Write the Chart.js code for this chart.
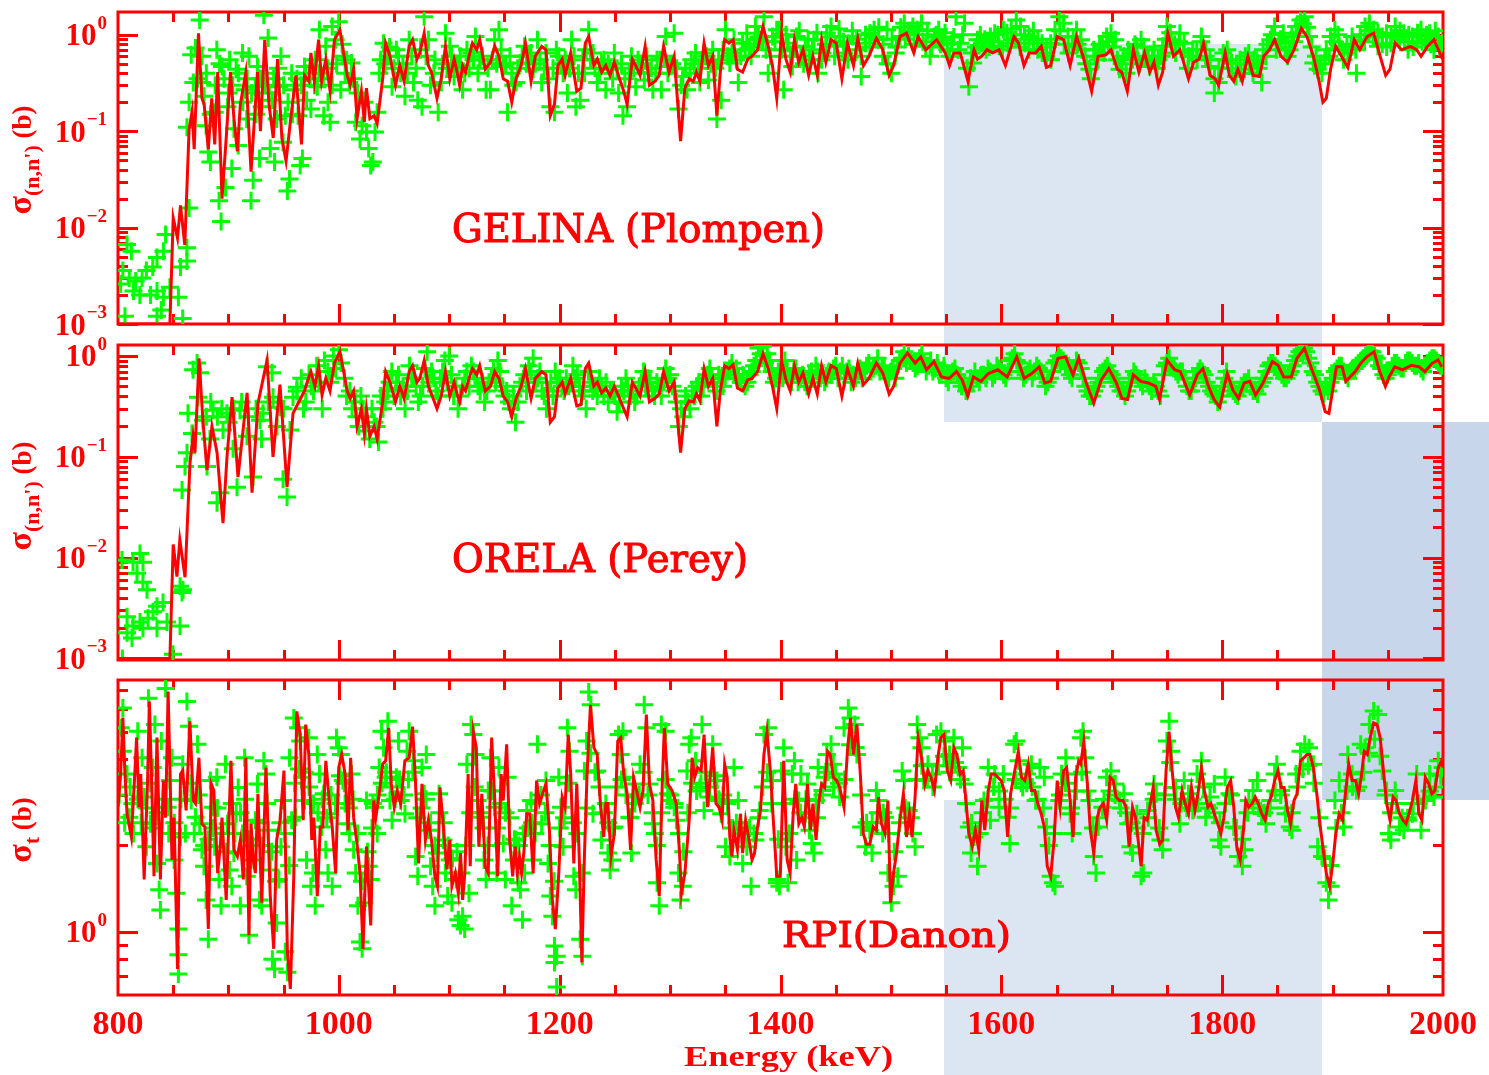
<!DOCTYPE html>
<html>
<head>
<meta charset="utf-8">
<script src="https://cdn.jsdelivr.net/npm/chart.js@4.4.1/dist/chart.umd.min.js"></script>
<style>
  html, body { margin: 0; padding: 0; background: #ffffff; }
  #wrap { position: relative; width: 1489px; height: 1075px; overflow: hidden; background: #ffffff; }
  .band { position: absolute; }
  canvas { position: absolute; left: 0; top: 0; }
</style>
</head>
<body>
<div id="wrap">
  <div class="band" style="left:944px;top:44px;width:378px;height:378px;background:#dce6f2"></div>
  <div class="band" style="left:944px;top:800px;width:378px;height:275px;background:#dce6f2"></div>
  <div class="band" style="left:1322px;top:422px;width:167px;height:378px;background:#c7d6ea"></div>
  <canvas id="gelina" width="1489" height="1075"></canvas>
  <canvas id="orela" width="1489" height="1075"></canvas>
  <canvas id="rpi" width="1489" height="1075"></canvas>
</div>
<script>
// ---------- axis ticks ----------
const energyLabels = [800, 1000, 1200, 1400, 1600, 1800, 2000];
const energyMajor = [1000, 1200, 1400, 1600, 1800];
const energyMinor = [850, 900, 950, 1050, 1100, 1150, 1250, 1300, 1350, 1450, 1500, 1550, 1650, 1700, 1750, 1850, 1900, 1950];
const decadeMajor = [0.001, 0.01, 0.1, 1];
const decadeMinor = [0.002, 0.003, 0.004, 0.005, 0.006, 0.007, 0.008, 0.009,
                     0.02, 0.03, 0.04, 0.05, 0.06, 0.07, 0.08, 0.09,
                     0.2, 0.3, 0.4, 0.5, 0.6, 0.7, 0.8, 0.9];
const decadeLabels = [[1, '0'], [0.1, '\u22121'], [0.01, '\u22122'], [0.001, '\u22123']];
const totalMajor = [1];
const totalMinor = [0.7, 0.8, 0.9, 2, 3, 4, 5, 6, 7];
const totalLabels = [[1, '0']];

// ---------- GELINA inelastic: evaluation (line) and measurement (crosses), [E keV, sigma b] ----------
const gelinaEval = [[800,0.001],[846,0.001],[847,0.001],[850,0.0126],[853.9,0.0078],[856.6,0.017],[860.5,0.0066],[864.4,0.105],[867.1,0.16],[869,0.065],[872.9,1.04],[876,0.22],[878,0.19],[881.8,0.065],[884.9,0.22],[887.6,0.073],[890.3,0.41],[894.2,0.02],[898,0.085],[901.9,0.41],[905,0.135],[908.1,0.062],[910.8,0.19],[915.8,0.41],[920.5,0.038],[926.3,0.41],[929,0.1],[932.9,0.89],[936.8,0.19],[940.6,0.085],[944.5,0.56],[948.4,0.085],[952.2,0.049],[956.1,0.125],[961.1,0.38],[966.2,0.073],[968.9,0.38],[972.8,0.33],[974.7,0.65],[977.8,0.33],[981.7,0.89],[984.4,0.33],[988.2,0.56],[992.1,0.26],[996,0.89],[1001,1.12],[1007.6,0.38],[1010.3,0.3],[1013.4,0.44],[1016.5,0.135],[1020.4,0.26],[1023.1,0.125],[1025,0.28],[1028.1,0.135],[1032,0.145],[1034.7,0.12],[1039.7,0.35],[1042.4,0.82],[1046.3,0.6],[1051.3,0.3],[1055.2,0.48],[1059.1,0.33],[1063.7,0.76],[1066.8,0.89],[1070.7,0.56],[1073.4,0.65],[1077.3,1.04],[1081.1,0.48],[1083.9,0.41],[1088.9,0.22],[1092.7,0.35],[1096.6,0.76],[1100.5,0.35],[1104.4,0.56],[1107.1,0.41],[1109.4,0.3],[1112.1,0.48],[1114.8,0.41],[1117.9,0.6],[1121,0.82],[1124.9,0.7],[1127.6,0.89],[1132.6,0.44],[1137.3,0.52],[1141.2,0.76],[1145,0.6],[1148.9,0.35],[1152.8,0.33],[1156.6,0.2],[1160.5,0.35],[1165.1,0.48],[1169,0.82],[1174.1,0.33],[1177.9,0.6],[1183.7,0.76],[1187.6,0.7],[1191.5,0.145],[1195.3,0.19],[1198.4,0.48],[1202.3,0.56],[1205,0.38],[1210,0.65],[1215.5,0.26],[1219.3,0.28],[1223.2,0.82],[1226.3,0.96],[1230.9,0.48],[1234.1,0.56],[1238,0.41],[1241.8,0.48],[1245.6,0.38],[1249.5,0.52],[1254.2,0.35],[1258,0.26],[1261.1,0.19],[1265.8,0.56],[1268.9,0.48],[1272.8,0.38],[1277.4,0.76],[1281.3,0.3],[1286.3,0.33],[1290.2,0.38],[1294.1,0.76],[1299.1,0.41],[1303.7,0.6],[1309.5,0.079],[1313.4,0.28],[1317.3,0.35],[1321.1,0.33],[1323.9,0.41],[1327,0.33],[1330.8,0.82],[1334.7,0.48],[1338.6,0.6],[1342.4,0.145],[1345.5,0.41],[1349.4,0.89],[1353.3,0.82],[1357.1,0.89],[1361,0.44],[1365.7,0.41],[1370.3,0.56],[1374.2,0.6],[1379.2,0.7],[1384.2,1.22],[1388.9,0.76],[1392.7,0.48],[1396.6,0.22],[1401,1.04],[1404.9,0.56],[1408.8,0.41],[1412.6,0.89],[1416.5,0.52],[1420.4,0.7],[1425.5,0.38],[1429.4,0.6],[1433.3,0.38],[1437.2,0.89],[1441.1,0.52],[1445.8,0.89],[1450.5,0.82],[1455.6,0.35],[1460.6,0.82],[1466.1,0.48],[1470,0.92],[1475.1,0.48],[1480.1,0.6],[1486.8,0.92],[1492.6,0.7],[1498.4,0.38],[1502.4,0.48],[1508.2,0.96],[1514.1,1.04],[1520.7,0.65],[1524.6,0.96],[1531.6,0.7],[1541.4,0.89],[1549.2,0.65],[1553.1,0.48],[1557,0.65],[1562.8,0.65],[1569.8,0.33],[1575.3,0.7],[1578.4,0.56],[1582.3,0.6],[1587,0.7],[1592.1,0.65],[1597.9,0.7],[1603.7,0.48],[1611.5,0.96],[1615.5,0.82],[1620.5,0.48],[1625.2,0.65],[1631.1,0.65],[1636.1,0.76],[1640.8,0.46],[1644.7,0.48],[1650.5,0.96],[1656.4,0.89],[1662.3,0.48],[1668.1,0.96],[1674,0.6],[1681.8,0.26],[1687.6,0.6],[1694.6,0.62],[1699.3,0.7],[1705.1,0.44],[1709,0.41],[1714.1,0.26],[1719.6,0.7],[1724.6,0.41],[1729.7,0.65],[1734.4,0.41],[1738.3,0.52],[1742.2,0.3],[1746.1,0.41],[1750.8,1.04],[1755.9,0.6],[1761.7,0.7],[1769.5,0.35],[1774.2,0.52],[1779.3,0.56],[1783.2,0.82],[1789,0.38],[1793.7,0.35],[1796.8,0.3],[1802.7,0.65],[1806.6,0.38],[1810.5,0.33],[1814.3,0.44],[1818.2,0.33],[1823.3,0.6],[1828,0.38],[1833.8,0.37],[1837.7,0.6],[1842.8,0.7],[1847.5,0.89],[1853.3,0.6],[1859.2,0.52],[1865.1,0.7],[1871.7,1.17],[1876.8,0.96],[1882.6,0.6],[1887.3,0.35],[1891.2,0.2],[1894.3,0.22],[1898.2,0.44],[1902.9,0.76],[1908,0.6],[1913.8,0.46],[1919.6,0.89],[1924.7,0.7],[1931.3,0.96],[1937.2,1.04],[1943.1,0.6],[1948.1,0.38],[1952,0.44],[1956.7,0.82],[1962.6,0.7],[1970.4,0.76],[1976.2,0.7],[1980.1,0.6],[1986,0.76],[1991.8,0.89],[1999.6,0.56]];

const gelinaData = [[808.2,0.0067],[812.1,0.0057],[804.4,0.0036],[810.2,0.003],[802.4,0.0026],[816,0.0028],[821.8,0.003],[825.7,0.0036],[831.5,0.0039],[835.3,0.0049],[841.1,0.0057],[843.1,0.0085],[814,0.0022],[819.8,0.002],[829.5,0.002],[835.3,0.0022],[841.1,0.0019],[847,0.0024],[839.2,0.0014],[835.3,0.0012],[854.7,0.0019],[858.6,0.00114],[806.3,0.0012],[856.6,0.0039],[862.4,0.0045],[862.4,0.0062],[864.4,0.016],[862.4,0.11],[864.4,0.2],[868.2,0.32],[866.3,0.62],[874,1.43],[870.2,0.73],[876,0.32],[877.9,0.23],[881.8,0.061],[883.7,0.048],[879.8,0.114],[887.6,0.157],[889.5,0.7],[891.5,0.019],[893.4,0.0116],[894.2,0.47],[897.3,0.026],[899.2,0.18],[901.1,0.55],[903.1,0.041],[905,0.106],[907,0.44],[908.9,0.071],[912.8,0.65],[914.7,0.27],[916.6,0.134],[918.6,0.6],[920.5,0.019],[922.4,0.031],[924.4,0.29],[926.3,0.47],[928.2,0.052],[930.2,0.18],[932.1,1.6],[934,0.4],[936,0.93],[937.9,0.066],[939.8,0.21],[941.8,0.048],[943.7,0.134],[945.7,0.29],[947.6,0.6],[949.5,0.077],[951.5,0.145],[953.4,0.024],[955.3,0.032],[957.3,0.4],[959.2,0.27],[963.1,0.145],[965,0.044],[967,0.052],[968.9,0.47],[970.8,0.21],[974.7,0.17],[978.6,0.55],[980.5,0.29],[982.4,1.13],[986.3,0.145],[988.2,0.76],[990.2,0.2],[992.1,0.124],[994,1.22],[997.1,0.89],[999.9,1.37],[1001.8,0.27],[1003.7,0.6],[1005.7,0.4],[1009.5,0.32],[1011.5,0.51],[1015.3,0.124],[1019.2,0.083],[1021.1,0.114],[1025,0.098],[1027,0.066],[1028.9,0.044],[1030.8,0.048],[1032.8,0.098],[1034.7,0.157],[1036.6,0.4],[1040.5,0.82],[1044.4,0.6],[1048.2,0.29],[1052.1,0.7],[1056,0.4],[1059.9,0.23],[1063.7,0.89],[1067.6,0.32],[1071.5,0.21],[1075.3,0.18],[1077.3,1.54],[1081.1,0.89],[1087,0.55],[1090,0.157],[1092.8,0.32],[1096.6,1.04],[1100.5,0.76],[1104.4,0.37],[1108.2,0.47],[1112.1,0.27],[1116,0.7],[1119.9,0.65],[1123.7,0.96],[1127.6,0.55],[1133.4,0.27],[1137.3,0.27],[1141.1,0.89],[1145,1.13],[1148.9,0.47],[1152.8,0.157],[1156.6,0.4],[1160.5,0.32],[1164.4,0.51],[1168.2,0.76],[1172.1,0.6],[1176,0.44],[1179.9,0.89],[1183.7,0.32],[1187.6,0.65],[1191.5,0.18],[1195.3,0.157],[1199.2,0.6],[1203.1,0.4],[1207,0.25],[1210.8,0.89],[1214.7,0.18],[1218.6,0.21],[1222.4,0.4],[1226.3,1.13],[1230.2,0.65],[1234,0.32],[1237.9,0.51],[1241.8,0.27],[1245.7,0.44],[1249.5,0.65],[1253.4,0.25],[1257.3,0.145],[1261.1,0.18],[1265,0.6],[1268.9,0.29],[1272.8,0.47],[1276.6,0.34],[1280.5,0.4],[1284.4,0.27],[1288.2,0.55],[1292.1,0.27],[1296,0.96],[1299.9,0.47],[1303.7,1.04],[1307.6,0.17],[1311.5,0.37],[1315.4,0.27],[1319.2,0.55],[1323.1,0.65],[1327,0.32],[1330.8,0.65],[1334.7,0.34],[1338.6,0.7],[1342.4,0.134],[1346.3,0.21],[1350.2,1.13],[1354.1,0.51],[1357.9,0.89],[1361.8,0.32],[1365.7,0.82],[1369.5,1.04],[1373.4,0.6],[1377.3,1.22],[1381.2,0.89],[1385,1.54],[1388.9,0.4],[1392.8,0.96],[1396.6,1.13],[1399,1.13],[1402.9,0.27],[1406.8,0.82],[1410.7,0.47],[1414.6,0.96],[1418.5,0.6],[1422.4,0.76],[1426.3,0.55],[1430.2,0.89],[1434.1,0.4],[1438,0.65],[1441.9,1.04],[1445.8,1.22],[1449.7,0.76],[1453.6,0.96],[1457.5,0.65],[1461.4,0.82],[1465.3,0.96],[1469.2,0.7],[1473.1,0.37],[1477,0.82],[1480.9,1.04],[1484.8,1.13],[1488.7,0.89],[1492.6,0.6],[1496.5,1.13],[1500.4,0.4],[1504.3,0.65],[1508.2,0.96],[1512.1,1.32],[1516,1.04],[1519.9,1.22],[1523.8,1.13],[1527.7,1.32],[1531.6,0.76],[1535.5,0.6],[1539.4,0.96],[1543.3,1.13],[1547.2,0.89],[1551.1,0.7],[1555,0.82],[1558.9,1.54],[1562.8,0.82],[1566.7,1.32],[1570.6,0.29],[1574.5,0.51],[1578.4,0.89],[1582.3,0.82],[1586.2,0.7],[1590.1,0.96],[1594,1.04],[1597.9,0.76],[1601.8,1.13],[1605.7,0.82],[1609.6,0.89],[1613.5,1.43],[1617.4,1.22],[1621.3,0.82],[1625.2,0.96],[1629.1,0.89],[1633,0.7],[1636.9,0.82],[1640.8,0.6],[1644.7,0.82],[1648.6,1.13],[1652.5,1.54],[1656.4,1.32],[1660.3,0.96],[1664.2,0.76],[1668.1,1.13],[1672,0.89],[1675.9,0.6],[1679.8,0.44],[1683.7,0.7],[1687.6,0.55],[1691.5,0.76],[1695.4,0.96],[1699.3,1.04],[1703.2,0.89],[1707.1,0.44],[1711,0.6],[1714.9,0.7],[1718.8,0.55],[1722.7,0.76],[1726.6,0.89],[1730.5,0.6],[1734.4,0.47],[1738.3,0.7],[1742.2,0.55],[1746.1,0.76],[1750,1.22],[1753.9,0.89],[1757.8,0.65],[1761.7,1.04],[1765.6,0.82],[1769.5,0.6],[1773.4,0.7],[1777.3,0.55],[1781.2,0.96],[1785.1,0.7],[1789,0.47],[1792.9,0.25],[1796.8,0.32],[1800.7,0.55],[1804.6,0.7],[1808.5,0.51],[1812.4,0.37],[1816.3,0.55],[1820.2,0.44],[1824.1,0.65],[1828,0.4],[1831.9,0.51],[1835.8,0.32],[1839.7,0.6],[1843.6,0.89],[1847.5,1.22],[1851.4,0.82],[1855.3,1.04],[1859.2,0.6],[1863.1,0.96],[1867,1.22],[1870.9,1.43],[1874.8,1.54],[1878.7,0.96],[1882.6,0.51],[1886.5,0.44],[1890.4,0.4],[1894.3,0.7],[1898.2,0.96],[1902.1,1.13],[1906,0.76],[1909.9,0.55],[1913.8,0.65],[1917.7,0.96],[1921.6,0.4],[1925.5,0.89],[1929.4,1.22],[1933.3,1.32],[1937.2,1.13],[1941.1,0.76],[1945,0.96],[1948.9,1.04],[1952.8,0.82],[1956.7,1.22],[1960.6,0.89],[1964.5,1.04],[1968.4,0.7],[1972.3,0.96],[1976.2,0.82],[1980.1,1.13],[1984,0.89],[1987.9,1.04],[1991.8,0.7],[1995.7,0.96],[1999.6,0.82],
[872,0.35],[876,0.6],[880,0.4],[884,0.15],[888,0.3],[892,0.5],[896,0.35],[900,0.25],[904,0.3],[909,0.4],[913,0.2],[917,0.35],[921,0.25],[925,0.15],[929,0.35],[933,0.3],[937,0.25],[941,0.35],[945,0.45],[950,0.3],[954,0.2],[958,0.15],[962,0.35],[966,0.3],[970,0.4],[974,0.35],[978,0.3],[982,0.4],[986,0.35],[990,0.45],[994,0.3],[998,0.5],
[1003,0.8],[1007,0.55],[1013,0.35],[1017,0.25],[1023,0.2],[1038,0.55],[1042,0.5],[1046,0.75],[1050,0.45],[1054,0.6],[1058,0.5],[1062,0.4],[1066,0.6],[1070,0.45],[1074,0.7],[1079,0.6],[1083,0.3],[1086,0.4],[1094,0.5],[1098,0.45],[1102,0.6],[1106,0.5],[1110,0.6],[1114,0.4],[1118,0.45],[1122,0.55],[1126,0.4],[1130,0.6],[1135,0.45],[1139,0.55],[1143,0.5],[1147,0.7],[1151,0.5],[1155,0.6],[1158,0.3],[1162,0.45],[1166,0.6],[1170,0.5],[1174,0.65],[1178,0.5],[1182,0.55],[1186,0.45],[1190,0.35],[1194,0.45],[1197,0.7],[1201,0.5],[1205,0.55],[1209,0.45],[1213,0.6],[1217,0.4],[1221,0.55],[1224,0.7],[1228,0.55],[1232,0.45],[1236,0.4],[1240,0.55],[1244,0.5],[1248,0.35],[1252,0.45],[1256,0.5],[1259,0.35],[1263,0.4],[1267,0.45],[1271,0.55],[1275,0.5],[1279,0.6],[1283,0.45],[1287,0.4],[1291,0.55],[1295,0.6],[1298,0.4],[1302,0.5],[1306,0.45],[1310,0.3],[1314,0.45],[1318,0.4],[1322,0.5],[1326,0.45],[1329,0.55],[1333,0.6],[1337,0.5],[1341,0.45],[1344,0.55],[1348,0.7],[1352,0.6],[1356,0.65],[1360,0.55],[1364,0.6],[1368,0.7],[1372,0.75],[1376,0.8],[1380,0.95],[1384,0.85],[1387,0.7],[1391,0.6],[1395,0.85],
[1401,0.7],[1405,1.0],[1409,0.6],[1413,0.75],[1417,1.1],[1421,0.5],[1425,0.9],[1429,0.7],[1433,1.05],[1437,0.55],[1441,0.8],[1445,0.95],[1449,0.6],[1453,1.15],[1457,0.85],[1461,0.55],[1465,1.1],[1469,0.9],[1473,0.6],[1477,1.0],[1481,0.75],[1485,0.95],[1489,1.2],[1493,0.8],[1497,0.5],[1501,0.9],[1505,0.75],[1509,1.2],[1513,0.9],[1517,1.1],[1521,0.8],[1525,1.0],[1529,0.85],[1533,1.1],[1537,0.75],[1541,1.0],[1545,0.8],[1549,1.05],[1553,0.6],[1557,0.95],[1561,0.7],[1565,1.0],[1569,0.45],[1573,0.65],[1577,0.75],[1581,1.0],[1585,0.9],[1589,0.75],[1593,0.85],[1597,1.0],[1601,0.7],[1605,1.05],[1609,1.15],[1613,0.9],[1617,0.75],[1621,1.0],[1625,0.7],[1629,1.1],[1633,0.9],[1637,0.65],[1641,0.75],[1645,0.55],[1649,0.9],[1653,1.1],[1657,0.8],[1661,0.65],[1665,0.95],[1669,0.8],[1673,0.7],[1677,0.5],[1681,0.35],[1685,0.6],[1689,0.8],[1693,0.65],[1697,0.85],[1701,0.75],[1705,0.55],[1709,0.5],[1713,0.4],[1717,0.65],[1721,0.8],[1725,0.5],[1729,0.75],[1733,0.55],[1737,0.6],[1741,0.45],[1745,0.6],[1749,0.9],[1753,1.05],[1757,0.8],[1761,0.85],[1765,0.65],[1769,0.45],[1773,0.6],[1777,0.7],[1781,0.85],[1785,0.6],[1789,0.55],[1793,0.35],[1797,0.45],[1801,0.65],[1805,0.55],[1809,0.45],[1813,0.5],[1817,0.4],[1821,0.6],[1825,0.5],[1829,0.55],[1833,0.45],[1837,0.7],[1841,0.8],[1845,1.0],[1849,0.7],[1853,0.9],[1857,0.75],[1861,0.7],[1865,0.85],[1869,1.05],[1873,1.3],[1877,1.2],[1881,0.75],[1885,0.6],[1889,0.5],[1893,0.55],[1897,0.6],[1901,0.85],[1905,1.0],[1909,0.7],[1913,0.8],[1917,0.75],[1921,0.7],[1925,1.0],[1929,0.85],[1933,1.1],[1937,0.95],[1941,1.05],[1945,0.8],[1949,0.75],[1953,1.0],[1957,0.95],[1961,1.1],[1965,0.85],[1969,1.0],[1973,0.75],[1977,1.05],[1981,0.85],[1985,1.0],[1989,0.8],[1993,1.1],[1997,0.75]];

// ---------- ORELA inelastic ----------
const orelaEval = [[800,0.001],[847,0.001],[850,0.0135],[853.4,0.0065],[856,0.015],[860.7,0.0064],[865.2,0.087],[868,0.16],[869.7,0.11],[873.4,0.95],[877,0.22],[880.6,0.074],[885.1,0.2],[889.7,0.11],[895.1,0.022],[898.7,0.1],[903.3,0.39],[908.7,0.063],[916.9,0.43],[921.4,0.044],[926.8,0.34],[935,0.91],[940.4,0.1],[946.7,0.52],[953.1,0.05],[958.5,0.27],[964.9,0.37],[968.9,0.45],[972,0.58],[974.7,0.7],[978.4,0.5],[981.7,0.8],[984.8,0.41],[988.2,0.6],[992,0.45],[996,0.85],[1001,1.1],[1007.6,0.45],[1010.3,0.38],[1013.4,0.45],[1016.5,0.2],[1020.4,0.3],[1023.1,0.17],[1025,0.3],[1028.1,0.16],[1032,0.2],[1034.7,0.15],[1039.7,0.35],[1042.4,0.7],[1046.3,0.55],[1051.3,0.35],[1055.2,0.5],[1059.1,0.38],[1063.7,0.7],[1066.8,0.8],[1070.7,0.55],[1073.4,0.6],[1077.3,0.9],[1081.1,0.5],[1083.9,0.42],[1088.9,0.3],[1092.7,0.4],[1096.6,0.7],[1100.5,0.4],[1104.4,0.55],[1107.1,0.42],[1109.4,0.35],[1112.1,0.5],[1114.8,0.45],[1117.9,0.6],[1121,0.75],[1124.9,0.65],[1127.6,0.8],[1132.6,0.45],[1137.3,0.5],[1141.2,0.7],[1145,0.6],[1148.9,0.4],[1152.8,0.35],[1156.6,0.25],[1160.5,0.38],[1165.1,0.5],[1169,0.75],[1174.1,0.38],[1177.9,0.6],[1183.7,0.7],[1187.6,0.65],[1191.5,0.22],[1195.3,0.25],[1198.4,0.48],[1202.3,0.55],[1205,0.42],[1210,0.6],[1215.5,0.32],[1219.3,0.33],[1223.2,0.75],[1226.3,0.85],[1230.9,0.5],[1234.1,0.55],[1238,0.43],[1241.8,0.48],[1245.6,0.4],[1249.5,0.5],[1254.2,0.38],[1258,0.3],[1261.1,0.25],[1265.8,0.55],[1268.9,0.48],[1272.8,0.4],[1277.4,0.7],[1281.3,0.35],[1286.3,0.38],[1290.2,0.42],[1294.1,0.7],[1299.1,0.45],[1303.7,0.55],[1309.5,0.11],[1313.4,0.3],[1317.3,0.36],[1321.1,0.35],[1323.9,0.42],[1327,0.36],[1330.8,0.75],[1334.7,0.5],[1338.6,0.6],[1342.4,0.2],[1345.5,0.45],[1349.4,0.8],[1353.3,0.75],[1357.1,0.82],[1361,0.48],[1365.7,0.45],[1370.3,0.58],[1374.2,0.6],[1379.2,0.7],[1384.2,1.05],[1388.9,0.75],[1392.7,0.5],[1396.6,0.3],[1401,0.9],[1404.9,0.58],[1408.8,0.45],[1412.6,0.8],[1416.5,0.55],[1420.4,0.68],[1425.5,0.42],[1429.4,0.6],[1433.3,0.42],[1437.2,0.8],[1441.1,0.55],[1445.8,0.8],[1450.5,0.75],[1455.6,0.4],[1460.6,0.75],[1466.1,0.5],[1470,0.85],[1475.1,0.52],[1480.1,0.6],[1486.8,0.85],[1492.6,0.68],[1498.4,0.42],[1502.4,0.5],[1508.3,0.85],[1515,1.07],[1522,0.85],[1527,0.98],[1532.2,0.73],[1539,0.88],[1545.8,0.62],[1552.6,0.6],[1559.4,0.7],[1564.5,0.58],[1569.6,0.4],[1574.7,0.62],[1581.5,0.56],[1588.3,0.67],[1596.8,0.73],[1605.3,0.62],[1613.9,0.98],[1620.7,0.6],[1627.5,0.67],[1634.3,0.78],[1639.4,0.54],[1644.6,0.56],[1651.3,0.95],[1658.1,0.98],[1664.9,0.65],[1670.1,0.95],[1676.9,0.54],[1683.7,0.34],[1690.5,0.58],[1697.3,0.75],[1704.2,0.54],[1709.2,0.38],[1714.3,0.37],[1719.5,0.65],[1726.3,0.56],[1733.1,0.54],[1739.9,0.5],[1743.3,0.37],[1750.1,0.91],[1756.9,0.73],[1762.1,0.7],[1770.6,0.41],[1777.4,0.65],[1782.5,0.75],[1787.6,0.5],[1792.7,0.37],[1797.8,0.31],[1804.6,0.67],[1809.7,0.46],[1814.8,0.38],[1819.9,0.54],[1825,0.56],[1830.2,0.41],[1837,0.54],[1845.5,0.88],[1850.6,0.81],[1855.8,0.62],[1862.6,0.62],[1867.7,0.95],[1874.5,1.19],[1881.3,0.73],[1888.2,0.46],[1893.3,0.28],[1896.7,0.27],[1903.5,0.78],[1908.6,0.78],[1912,0.56],[1920.5,0.7],[1925.6,0.85],[1930.8,0.98],[1937.6,1.1],[1942.7,0.7],[1947.8,0.5],[1951.2,0.62],[1956.3,0.78],[1963.1,0.73],[1971.6,0.81],[1978.4,0.78],[1983.5,0.7],[1990.4,0.85],[1995.5,0.91],[1998.9,0.78]];

const orelaData = [[803.6,0.0095],[813.6,0.009],[819.9,0.011],[822.6,0.009],[817.2,0.007],[822.6,0.0057],[826.3,0.0048],[808.2,0.0026],[813.6,0.0021],[819.9,0.0023],[827.2,0.0025],[831.7,0.0029],[835.3,0.0033],[840.8,0.0036],[808.2,0.0018],[812.7,0.0016],[822.6,0.002],[835.3,0.002],[844.4,0.0023],[856.2,0.0021],[858,0.0045],[856.2,0.0052],[858.9,0.0048],[804,0.001],[849.8,0.0011],[858,0.047],[860.7,0.08],[862.5,0.11],[867,0.17],[863.4,0.27],[868,0.73],[871.6,0.85],[874.3,0.68],[872.5,0.39],[877,0.23],[880.6,0.08],[883.3,0.15],[886.1,0.29],[889.7,0.035],[892.4,0.044],[895.1,0.185],[898.7,0.27],[904.2,0.12],[907.8,0.05],[910.5,0.29],[916.8,0.16],[922.3,0.063],[928.6,0.23],[931.3,0.27],[935,0.78],[939.5,0.68],[940.4,0.39],[946.7,0.31],[949.5,0.06],[953.1,0.04],[955.8,0.185],[958.5,0.39],[962.1,0.49],[880,0.25],[884,0.35],[890,0.25],[894,0.3],[900,0.22],[905,0.3],[912,0.35],[918,0.25],[925,0.3],[930,0.15],[936,0.35],[944,0.2],[950,0.3],[966,0.6],[970,0.35],[975,0.5],[980,0.8],[985,0.3],[990,0.7],[995,1.0],[1000,1.15],[1005,0.6],[1010,0.45],[1015,0.35],[1018,0.2],[1022,0.3],[1025,0.25],[1028,0.15],[1032,0.22],[1036,0.14],[1040,0.3],[1044,0.45],[1048,0.7],[1052,0.55],[1056,0.4],[1060,0.3],[1064,0.8],[1068,0.6],[1072,0.35],[1076,0.5],[1080,1.1],[1084,0.7],[1088,0.45],[1092,0.6],[1096,0.9],[1100,1.0],[1104,0.4],[1108,0.3],[1112,0.5],[1116,0.7],[1120,0.8],[1124,0.6],[1128,0.45],[1132,0.35],[1136,0.55],[1140,0.75],[1144,0.9],[1148,0.5],[1152,0.45],[1156,0.3],[1160,0.22],[1164,0.5],[1168,0.65],[1172,0.8],[1176,0.95],[1180,0.6],[1184,0.45],[1188,0.3],[1192,0.55],[1196,0.7],[1200,0.6],[1204,0.45],[1208,0.5],[1212,0.8],[1216,0.65],[1220,0.4],[1224,0.3],[1228,0.55],[1232,0.5],[1236,0.6],[1240,0.4],[1244,0.35],[1248,0.45],[1252,0.28],[1256,0.5],[1260,0.6],[1264,0.4],[1268,0.35],[1272,0.5],[1276,0.7],[1280,0.6],[1284,0.45],[1288,0.55],[1292,0.4],[1296,0.75],[1300,0.65],[1304,0.45],[1308,0.2],[1312,0.25],[1316,0.35],[1320,0.45],[1324,0.5],[1328,0.4],[1332,0.6],[1336,0.75],[1340,0.55],[1344,0.65],[1348,0.5],[1352,0.7],[1356,0.85],[1360,0.75],[1364,0.55],[1368,0.5],[1372,0.65],[1376,0.8],[1380,1.2],[1384,1.25],[1388,1.05],[1392,0.7],[1396,0.6],[1400,0.75],[1404,0.9],[1408,0.6],[1412,0.7],[1416,0.55],[1420,0.65],[1424,0.5],[1428,0.7],[1432,0.8],[1436,0.6],[1440,0.55],[1444,0.7],[1448,0.75],[1452,0.6],[1456,0.8],[1460,0.7],[1464,0.55],[1468,0.6],[1472,0.75],[1476,0.7],[1480,0.85],[1484,0.75],[1488,0.95],[1492,0.8],[1496,0.65],[1500,0.7],[1504,0.6],[1508,0.9],[1512,1.1],[1516,1.0],[1520,0.85],[1524,0.8],[1528,1.05],[1532,0.7],[1536,0.9],[1540,0.75],[1544,0.65],[1548,0.8],[1552,0.55],[1556,0.7],[1560,0.65],[1564,0.5],[1568,0.45],[1572,0.6],[1576,0.7],[1580,0.55],[1584,0.65],[1588,0.75],[1592,0.6],[1596,0.8],[1600,0.7],[1604,0.6],[1608,0.9],[1612,1.05],[1616,0.85],[1620,0.6],[1624,0.7],[1628,0.6],[1632,0.8],[1636,0.7],[1640,0.5],[1644,0.6],[1648,0.85],[1652,1.0],[1656,0.9],[1660,0.75],[1664,0.6],[1668,0.9],[1672,0.75],[1676,0.5],[1680,0.4],[1684,0.45],[1688,0.55],[1692,0.7],[1696,0.8],[1700,0.65],[1704,0.55],[1708,0.45],[1712,0.4],[1716,0.55],[1720,0.7],[1724,0.6],[1728,0.5],[1732,0.55],[1736,0.45],[1740,0.5],[1744,0.4],[1748,0.8],[1752,0.95],[1756,0.75],[1760,0.65],[1764,0.7],[1768,0.5],[1772,0.45],[1776,0.6],[1780,0.75],[1784,0.65],[1788,0.5],[1792,0.42],[1796,0.35],[1800,0.5],[1804,0.7],[1808,0.5],[1812,0.42],[1816,0.45],[1820,0.55],[1824,0.6],[1828,0.45],[1832,0.42],[1836,0.55],[1840,0.7],[1844,0.85],[1848,0.8],[1852,0.7],[1856,0.6],[1860,0.65],[1864,0.8],[1868,1.0],[1872,1.15],[1876,1.1],[1880,0.85],[1884,0.65],[1888,0.5],[1892,0.42],[1896,0.45],[1900,0.6],[1904,0.75],[1908,0.8],[1912,0.65],[1916,0.7],[1920,0.75],[1924,0.85],[1928,0.95],[1932,1.05],[1936,1.1],[1940,0.95],[1944,0.75],[1948,0.6],[1952,0.7],[1956,0.85],[1960,0.8],[1964,0.75],[1968,0.9],[1972,0.85],[1976,0.8],[1980,0.75],[1984,0.8],[1988,0.9],[1992,0.95],[1996,0.85],[2000,0.8],
[962,0.45],[968,0.3],[973,0.65],[977,0.45],[982,0.55],[987,0.9],[992,0.55],[997,0.75],[1002,0.85],[1007,0.4],[1012,0.3],[1016,0.25],[1020,0.4],[1024,0.18],[1030,0.3],[1034,0.2],[1038,0.4],[1042,0.35],[1046,0.55],[1050,0.4],[1054,0.65],[1058,0.5],[1062,0.45],[1066,0.6],[1070,0.5],[1074,0.4],[1078,0.75],[1082,0.55],[1086,0.6],[1090,0.4],[1094,0.7],[1098,0.55],[1102,0.65],[1106,0.5],[1110,0.4],[1114,0.6],[1118,0.5],[1122,0.7],[1126,0.5],[1130,0.55],[1134,0.45],[1138,0.6],[1142,0.55],[1146,0.7],[1150,0.4],[1154,0.35],[1158,0.4],[1162,0.35],[1166,0.55],[1170,0.45],[1174,0.7],[1178,0.55],[1182,0.7],[1186,0.4],[1190,0.45],[1194,0.4],[1198,0.55],[1202,0.5],[1206,0.6],[1210,0.55],[1214,0.6],[1218,0.5],[1222,0.45],[1226,0.7],[1230,0.45],[1234,0.4],[1238,0.5],[1242,0.55],[1246,0.45],[1250,0.4],[1254,0.35],[1258,0.45],[1262,0.5],[1266,0.45],[1270,0.4],[1274,0.55],[1278,0.5],[1282,0.55],[1286,0.4],[1290,0.5],[1294,0.55],[1298,0.6],[1302,0.5],[1306,0.35],[1310,0.3],[1314,0.4],[1318,0.3],[1322,0.4],[1326,0.55],[1330,0.5],[1334,0.65],[1338,0.6],[1342,0.45],[1346,0.6],[1350,0.6],[1354,0.75],[1358,0.65],[1362,0.6],[1366,0.65],[1370,0.55],[1374,0.7],[1378,0.9],[1382,1.05],[1386,0.85],[1390,0.9],[1394,0.55],[1398,0.7],[1402,0.6],[1406,0.75],[1410,0.55],[1414,0.75],[1418,0.6],[1422,0.55],[1426,0.65],[1430,0.6],[1434,0.7],[1438,0.65],[1442,0.6],[1446,0.65],[1450,0.8],[1454,0.7],[1458,0.6],[1462,0.75],[1466,0.65],[1470,0.7],[1474,0.6],[1478,0.8],[1482,0.7],[1486,0.8],[1490,0.7],[1494,0.75],[1498,0.6],[1502,0.75],[1506,0.8],[1510,0.95],[1514,0.85],[1518,0.9],[1522,0.75],[1526,0.95],[1530,0.85],[1534,0.8],[1538,0.7],[1542,0.85],[1546,0.7],[1550,0.6],[1554,0.65],[1558,0.75],[1562,0.55],[1566,0.55],[1570,0.5],[1574,0.55],[1578,0.6],[1582,0.65],[1586,0.6],[1590,0.7],[1594,0.65],[1598,0.75],[1602,0.65],[1606,0.7],[1610,0.95],[1614,0.9],[1618,0.7],[1622,0.65],[1626,0.75],[1630,0.7],[1634,0.75],[1638,0.6],[1642,0.55],[1646,0.7],[1650,0.9],[1654,0.95],[1658,0.8],[1662,0.65],[1666,0.75],[1670,0.85],[1674,0.6],[1678,0.45],[1682,0.4],[1686,0.5],[1690,0.6],[1694,0.75],[1698,0.7],[1702,0.6],[1706,0.5],[1710,0.45],[1714,0.45],[1718,0.6],[1722,0.65],[1726,0.55],[1730,0.6],[1734,0.5],[1738,0.55],[1742,0.45],[1746,0.65],[1750,0.85],[1754,0.8],[1758,0.7],[1762,0.7],[1766,0.6],[1770,0.45],[1774,0.55],[1778,0.7],[1782,0.7],[1786,0.55],[1790,0.45],[1794,0.4],[1798,0.4],[1802,0.6],[1806,0.55],[1810,0.45],[1814,0.4],[1818,0.5],[1822,0.55],[1826,0.5],[1830,0.45],[1834,0.5],[1838,0.6],[1842,0.8],[1846,0.85],[1850,0.75],[1854,0.65],[1858,0.6],[1862,0.7],[1866,0.9],[1870,1.1],[1874,1.2],[1878,0.95],[1882,0.7],[1886,0.55],[1890,0.45],[1894,0.5],[1898,0.55],[1902,0.7],[1906,0.8],[1910,0.7],[1914,0.6],[1918,0.75],[1922,0.8],[1926,0.9],[1930,1.0],[1934,1.1],[1938,1.0],[1942,0.8],[1946,0.65],[1950,0.65],[1954,0.8],[1958,0.85],[1962,0.75],[1966,0.85],[1970,0.9],[1974,0.8],[1978,0.85],[1982,0.7],[1986,0.85],[1990,0.95],[1994,0.9],[1998,0.8]];

// ---------- RPI total cross section ----------
const rpiEval = [[800,2.72],[802.4,3.55],[804.4,5.6],[806.3,3.55],[808.2,2.58],[812.1,2.14],[815.2,3.55],[816.8,4.76],[819.1,2.72],[820.6,3.55],[823.7,1.52],[826.8,3.37],[828.4,6.37],[830.7,3.11],[832.6,1.56],[835.3,4.76],[838.4,1.52],[841.1,3.37],[843.1,2.5],[845.4,6.9],[848.9,1.78],[850.8,2.5],[853.9,0.74],[856.6,3.55],[858.6,3.65],[861.7,2.65],[865.1,5.43],[868.2,2.87],[870.2,2.8],[873.3,4.05],[876,2.38],[878.7,2.32],[881.8,1.02],[884.5,3.28],[886.8,3.11],[890.3,1.6],[892.6,1.98],[894.2,2.5],[898,1.29],[902.3,3.95],[905,1.93],[908.1,1.83],[910.8,2.09],[913.5,1.52],[915.8,4.05],[918.6,0.97],[920.5,2.38],[922.4,1.78],[924.4,1.6],[926.7,3.03],[930.2,1.26],[934,3.74],[937.9,1.33],[941,0.87],[943.7,2.09],[946.8,2.45],[950.3,3.65],[953.4,0.85],[956.1,0.63],[959.2,1.56],[961.9,5.88],[965,4.88],[967.7,2.45],[970,5.29],[972.8,4.16],[975.5,2.09],[977.4,2.5],[980.5,1.33],[983.2,2.32],[985.5,2.32],[988.2,3.95],[991.3,2.87],[994,2.32],[997.1,1.6],[999.9,3.74],[1002.6,4.16],[1005.7,3.55],[1008.4,2.26],[1010.7,4.05],[1013.4,2.5],[1016.5,2.02],[1019.2,1.6],[1021.9,0.87],[1025,1.98],[1028.9,1.05],[1031.6,2.87],[1033.5,2.5],[1036.6,3.03],[1039.7,3.85],[1042.4,3.95],[1045.1,5.15],[1047.5,3.28],[1050.2,2.72],[1052.9,3.11],[1056,2.8],[1059.8,3.95],[1063.7,4.05],[1066.8,5.2],[1069.5,3.28],[1072.2,1.73],[1075.3,3.28],[1078.4,2.09],[1081.1,2.45],[1083.9,2.09],[1087,1.56],[1089.3,1.44],[1091.6,3.19],[1094.7,2.32],[1097.8,1.65],[1100.5,2.09],[1102.4,1.44],[1105.5,1.6],[1108.2,1.36],[1110.2,1.88],[1112.1,1.29],[1114.1,1.6],[1117.1,3.55],[1119,1.69],[1121.8,5.0],[1124.5,4.39],[1126.8,1.98],[1129.5,3.03],[1132.6,1.69],[1135.3,1.6],[1138.4,4.76],[1141.1,2.95],[1143.8,1.56],[1147,3.55],[1148.9,2.87],[1152,4.51],[1154.7,2.09],[1157.4,1.56],[1159.7,1.98],[1161.7,1.6],[1163.6,1.83],[1165.5,1.6],[1167.5,1.88],[1170.2,2.58],[1172.9,2.58],[1176,1.6],[1179.1,3.37],[1181.8,2.8],[1184.5,3.03],[1187.6,3.28],[1190.7,2.26],[1193.4,1.29],[1196.1,1.02],[1199.2,1.6],[1202.3,2.95],[1204.9,2.72],[1207.8,4.88],[1210,3.55],[1212.8,1.73],[1215.5,3.28],[1217.8,1.78],[1220.1,0.78],[1222.4,1.83],[1224.8,3.55],[1227.9,6.2],[1231,4.39],[1234,4.16],[1237.1,2.72],[1239.9,2.14],[1241.8,2.8],[1243.7,2.8],[1246.5,1.83],[1249.5,2.2],[1252.6,4.63],[1255.3,4.76],[1258,3.55],[1261.1,3.03],[1264.2,1.93],[1266.9,3.46],[1269.7,3.11],[1272.8,2.72],[1275.5,3.11],[1278.5,5.73],[1281.3,3.28],[1284.4,2.87],[1287.4,1.78],[1290.2,1.33],[1292.9,3.28],[1294.8,5.15],[1297.9,3.28],[1301.8,3.11],[1305.6,2.8],[1308.4,1.93],[1310.3,1.36],[1313.4,1.6],[1317.3,2.45],[1320,4.05],[1322.3,3.46],[1325,3.74],[1328.1,3.65],[1330.8,4.88],[1333.9,2.72],[1336.6,3.55],[1338.6,4.39],[1341.6,2.8],[1344.4,2.72],[1347.1,2.45],[1349.4,3.85],[1351.7,3.46],[1354.1,2.14],[1356,1.83],[1357.9,2.26],[1361,1.93],[1363.7,2.58],[1365.7,1.88],[1368.4,2.45],[1371.5,2.09],[1374.2,1.78],[1376.5,1.88],[1379.2,2.32],[1381.9,2.65],[1385,4.16],[1387.7,5.0],[1390.8,3.65],[1393.5,2.45],[1396.6,1.56],[1399.8,1.56],[1402.9,3.95],[1406,1.78],[1408.7,1.6],[1411.5,2.58],[1413.8,3.28],[1416.6,2.38],[1419.3,2.5],[1421.6,2.32],[1424.4,3.28],[1427.1,2.26],[1429.4,2.8],[1432.2,2.09],[1434.9,2.87],[1437.2,3.28],[1440,3.19],[1442.7,4.26],[1445,4.16],[1447.8,3.46],[1450.9,3.37],[1453.6,3.19],[1457.5,2.72],[1460.6,4.26],[1463.4,5.58],[1466.1,4.16],[1469.2,5.29],[1472.3,3.55],[1475,2.2],[1477.8,2.02],[1480.9,2.02],[1484,2.32],[1486.8,2.26],[1488.7,2.95],[1491.4,2.38],[1494.6,2.2],[1497.3,2.87],[1499.6,1.26],[1502.4,1.6],[1505.1,1.88],[1508.2,2.45],[1511.3,3.03],[1514.1,2.14],[1516.8,2.58],[1519.1,2.14],[1521.9,2.95],[1524.6,4.76],[1527.7,4.05],[1530.8,3.28],[1533.5,3.65],[1536.3,3.46],[1539.4,3.11],[1542.5,4.05],[1545.2,4.76],[1548,4.88],[1551.1,3.65],[1554.2,3.37],[1557,4.39],[1559.7,4.16],[1562.8,3.55],[1565.5,3.65],[1567.9,2.87],[1570.6,2.2],[1573.7,1.98],[1576.5,2.26],[1579.6,1.93],[1582.3,2.87],[1585,2.26],[1588.2,3.11],[1590.9,3.55],[1594,3.55],[1596.7,3.46],[1599.9,3.37],[1602.6,3.11],[1605.7,2.14],[1608.4,3.03],[1611.6,3.55],[1615.4,4.26],[1618.2,3.46],[1621.3,3.37],[1624.4,3.85],[1627.2,3.11],[1630.3,3.11],[1633,2.8],[1636.1,2.58],[1638.9,2.32],[1641.6,1.69],[1644.7,1.56],[1647.8,2.09],[1650.6,3.37],[1653.3,2.72],[1656.4,3.65],[1659.1,3.74],[1662.3,2.87],[1665,2.14],[1667.3,3.46],[1670.1,3.95],[1672,3.85],[1674.7,4.63],[1677.9,3.28],[1680.6,2.26],[1683.7,1.88],[1686.8,2.5],[1689.6,2.72],[1692.3,2.8],[1695.4,2.45],[1698.5,3.46],[1701.3,3.37],[1704,2.95],[1707.1,2.87],[1710.2,2.87],[1712.9,2.72],[1715.7,1.98],[1718.8,2.72],[1721.5,2.5],[1723.9,2.09],[1726.6,1.69],[1729.3,2.5],[1732.1,2.45],[1734.4,2.72],[1737.5,3.19],[1740.2,2.26],[1743.4,2.02],[1746.1,2.09],[1749.2,3.65],[1751.9,5.0],[1754.7,3.65],[1757.8,2.72],[1760.5,2.5],[1763.7,3.11],[1766.4,2.8],[1769.5,2.58],[1772.2,3.19],[1775.4,2.65],[1778.1,3.03],[1781.2,3.74],[1783.9,3.11],[1787.1,2.72],[1789.8,2.8],[1792.9,2.58],[1796,2.38],[1798.8,2.2],[1801.5,2.5],[1804.6,3.19],[1807.7,3.37],[1810.5,2.72],[1813.2,1.98],[1816.3,1.78],[1819,2.2],[1821.4,2.87],[1824.1,2.72],[1827.2,2.8],[1829.9,2.95],[1832.7,2.8],[1835.8,2.58],[1838.9,2.45],[1841.7,2.8],[1844.4,2.95],[1847.5,3.37],[1850.6,3.65],[1853.4,3.19],[1856.1,3.19],[1859.2,2.65],[1861.9,2.38],[1865.1,2.87],[1867.8,3.03],[1870.9,3.95],[1874,4.05],[1876.8,4.16],[1879.5,4.16],[1882.6,3.74],[1885.7,3.03],[1888.5,2.38],[1891.2,1.98],[1894.3,1.6],[1897.4,1.44],[1900.2,1.73],[1902.9,2.2],[1906,2.58],[1909.1,2.45],[1911.9,3.11],[1914.6,3.85],[1917.7,3.37],[1920.8,3.37],[1923.6,3.03],[1926.3,3.55],[1928.6,4.26],[1931.4,4.16],[1934.1,4.76],[1937.2,5.36],[1940.3,5.29],[1943.1,4.76],[1945.8,3.74],[1949,2.8],[1952,2.45],[1954.8,2.95],[1957.5,2.87],[1960.6,2.58],[1963.7,2.45],[1966.5,2.38],[1969.2,2.58],[1972.3,2.87],[1975.4,3.37],[1978.2,2.58],[1980.9,2.45],[1984,3.46],[1987.1,3.28],[1989.9,3.03],[1992.6,3.11],[1995.7,3.74],[1998.8,3.95],[2000,3.74]];

const rpiData = [[804.4,6.04],[802.4,5.15],[804.4,4.27],[808.2,3.55],[810.2,2.51],[814,2.2],[817.9,5.01],[821.8,4.05],[823.7,2.95],[827.6,6.53],[825.7,1.98],[829.5,2.38],[831.5,3.74],[833.4,5.29],[835.3,1.73],[837.3,1.4],[838.4,1.19],[839.2,4.63],[843.1,7.07],[845,2.72],[847,3.37],[848.9,4.05],[850.8,1.78],[852.8,1.36],[854.7,1.02],[854.7,0.83],[854.7,0.71],[856.6,2.14],[858.6,3.84],[862.4,6.37],[864.4,5.22],[866.3,2.87],[870.2,2.51],[872.1,4.51],[874,2.38],[876,1.93],[877.9,1.69],[879.8,1.29],[881.8,0.94],[883.7,3.37],[885.7,2.72],[887.6,1.98],[889.5,3.46],[891.5,1.52],[893.4,1.23],[897.3,3.84],[899.2,2.38],[901.1,1.64],[903.1,1.44],[905,1.88],[907,2.58],[908.9,3.19],[910.8,1.23],[912.8,2.2],[914.7,4.05],[916.6,1.56],[918.6,0.97],[920.5,1.78],[924.4,2.45],[926.3,3.28],[928.2,1.29],[930.2,1.23],[932.1,3.95],[934,3.55],[936,2.26],[937.9,1.64],[939.8,0.8],[941.8,0.74],[943.7,1.07],[945.7,1.52],[947.6,1.98],[949.5,2.87],[951.5,0.85],[953.4,0.72],[955.3,4.05],[957.3,2.45],[959.2,5.58],[961.1,2.51],[963.1,5.15],[965,4.63],[967,3.46],[968.9,2.87],[970.8,1.78],[972.8,4.76],[974.7,1.44],[976.6,1.6],[978.6,1.23],[980.5,4.16],[982.4,3.55],[984.4,2.32],[986.3,3.03],[988.2,1.93],[990.2,1.6],[992.1,2.58],[994,1.44],[997.9,4.76],[999.9,4.39],[1001.8,4.16],[1003.7,3.37],[1005.7,2.8],[1007.6,2.38],[1009.5,2.2],[1011.5,3.55],[1013.4,1.93],[1015.3,1.6],[1017.3,1.23],[1019.2,0.92],[1021.1,0.87],[1023.1,1.26],[1025,2.87],[1027,1.69],[1028.9,1.52],[1030.8,2.8],[1032.8,2.72],[1034.7,2.2],[1036.6,3.74],[1038.6,5.01],[1040.5,4.39],[1042.4,3.46],[1044.4,5.43],[1046.3,2.87],[1048.2,2.45],[1052.1,3.46],[1054,4.63],[1056,2.87],[1059.9,2.58],[1061.8,4.27],[1063.7,5.01],[1067.6,3.95],[1069.5,1.83],[1071.5,1.56],[1075.3,3.74],[1077.3,3.03],[1079.2,4.16],[1081.1,2.26],[1083.1,1.69],[1085,1.44],[1087,1.23],[1088.9,1.88],[1090.8,3.03],[1094.7,2.09],[1096.6,1.6],[1098.6,1.33],[1100.5,1.78],[1102.4,1.26],[1106.3,1.52],[1108.2,1.1],[1110.2,1.05],[1112.1,1.13],[1114,1.02],[1116,3.84],[1117.9,1.36],[1119.8,5.29],[1121.8,4.88],[1123.7,4.16],[1125.7,2.87],[1129.5,2.51],[1131.5,1.78],[1133.4,1.52],[1135.3,3.11],[1137.3,4.05],[1141.1,2.72],[1143.1,1.6],[1145,3.74],[1148.9,2.03],[1150.8,1.52],[1152.8,3.46],[1156.6,1.23],[1158.6,1.78],[1160.5,2.09],[1162.4,1.48],[1164.4,1.4],[1166.3,1.1],[1168.2,1.6],[1170.2,2.65],[1174,2.87],[1176,1.78],[1177.9,2.2],[1179.9,4.51],[1183.7,2.38],[1187.6,3.37],[1189.5,1.73],[1191.5,1.33],[1193.4,1.13],[1195.3,0.89],[1197.3,0.82],[1195.3,0.78],[1197.3,0.64],[1199.2,3.46],[1201.1,2.72],[1203.1,1.98],[1207,5.15],[1208.9,4.27],[1212.8,1.56],[1214.7,1.4],[1218.6,0.94],[1220.5,0.82],[1222.4,3.64],[1224.4,4.63],[1226.3,6.88],[1228.2,6.2],[1230.2,2.58],[1234,3.64],[1237.9,2.09],[1241.8,2.8],[1243.7,1.88],[1245.7,1.64],[1247.6,1.78],[1249.5,2.32],[1253.4,4.88],[1255.3,4.16],[1257.3,5.01],[1259.2,3.46],[1263.1,2.51],[1265,1.88],[1267,3.28],[1268.9,2.95],[1272.8,3.84],[1276.6,6.2],[1278.6,5.15],[1281.3,3.28],[1284.4,2.38],[1286.3,2.2],[1288.2,1.48],[1290.2,1.23],[1292.1,5.29],[1296,5.01],[1297.9,3.03],[1299.9,2.87],[1303.7,2.72],[1305.7,2.45],[1307.6,1.6],[1309.5,1.29],[1311.5,1.44],[1315.3,3.64],[1317.3,4.51],[1319.2,4.76],[1323.1,3.95],[1327,3.19],[1328.9,5.29],[1330.8,2.65],[1334.7,2.95],[1338.6,4.51],[1342.4,3.37],[1344.4,2.87],[1346.3,2.58],[1350.2,1.98],[1354.1,1.83],[1357.9,3.74],[1361.8,2.87],[1365.7,1.73],[1369.5,1.98],[1373.4,1.44],[1377.3,2.09],[1381.2,2.65],[1385,4.88],[1388.9,5.15],[1392.8,3.37],[1396.6,1.48],[1397,1.52],[1399,1.44],[1400.9,3.64],[1402.9,4.39],[1404.9,1.98],[1406.8,1.48],[1410.7,3.55],[1412.6,3.95],[1414.6,1.78],[1416.5,2.87],[1418.5,3.55],[1422.4,2.58],[1424.4,3.28],[1426.3,2.26],[1428.3,2.03],[1430.2,1.88],[1432.2,2.87],[1434.1,3.74],[1438,3.11],[1440,3.46],[1441.9,4.16],[1445.8,4.51],[1447.8,3.84],[1449.7,3.55],[1453.6,2.95],[1457.5,5.15],[1461.4,6.04],[1463.4,5.58],[1467.3,5.29],[1469.2,4.16],[1473.1,2.32],[1477,1.98],[1480.9,2.26],[1482.9,1.88],[1486.8,3.11],[1488.7,2.87],[1492.6,2.2],[1494.6,2.51],[1497.3,1.6],[1500.4,1.26],[1502.4,1.44],[1506.3,1.56],[1510.2,3.64],[1512.1,3.37],[1516,2.65],[1519.9,2.2],[1521.9,1.98],[1523.8,5.29],[1525.8,4.76],[1527.7,4.39],[1529.7,3.37],[1533.6,3.84],[1537.5,3.55],[1541.4,4.88],[1545.3,5.01],[1549.2,4.63],[1553.1,4.16],[1557,4.76],[1560.9,3.74],[1564.8,4.39],[1566.7,3.28],[1570.6,2.32],[1572.6,1.88],[1575.3,2.14],[1578.4,1.69],[1580.4,2.2],[1584.3,2.87],[1588.2,3.74],[1590.1,2.45],[1594,3.55],[1597.9,2.72],[1601.8,3.55],[1605.7,2.51],[1607.7,2.03],[1611.6,4.51],[1613.5,4.63],[1615.5,3.95],[1619.4,3.19],[1623.3,3.55],[1627.2,3.84],[1631.1,2.87],[1635,3.74],[1638.9,3.46],[1640.8,2.32],[1644.7,1.56],[1646.7,1.48],[1648.6,1.44],[1652.5,2.87],[1654.5,3.55],[1658.4,4.05],[1662.3,2.58],[1664.2,2.2],[1668.1,3.55],[1672,4.76],[1674,5.01],[1675.9,4.05],[1679.8,2.87],[1683.7,1.83],[1685.7,1.6],[1687.6,2.32],[1691.5,2.72],[1695.4,3.46],[1699.3,3.64],[1703.2,3.28],[1707.1,2.87],[1711,3.03],[1714.9,2.38],[1716.9,1.98],[1718.8,1.88],[1722.7,2.58],[1726.6,1.56],[1728.6,1.6],[1732.5,2.65],[1738.3,3.28],[1740.3,3.03],[1744.2,2.09],[1746.1,1.93],[1750,4.63],[1752,5.43],[1753.9,4.27],[1757.8,3.19],[1761.7,2.38],[1765.6,3.37],[1769.5,3.03],[1773.4,2.65],[1777.3,3.55],[1781.2,3.95],[1785.1,2.51],[1789,2.95],[1792.9,3.28],[1796.8,2.09],[1798.8,1.98],[1802.7,3.46],[1806.6,3.03],[1810.5,2.32],[1814.4,1.83],[1818.3,1.69],[1820.2,1.93],[1824.1,2.87],[1828,3.11],[1831.9,3.37],[1835.8,2.58],[1839.7,2.38],[1843.6,2.87],[1847.5,3.55],[1849.5,3.84],[1853.4,3.11],[1857.3,2.58],[1861.2,2.32],[1863.1,2.26],[1867,3.55],[1870.9,4.27],[1874.8,4.51],[1878.7,4.39],[1882.6,3.84],[1886.5,1.98],[1890.4,1.83],[1894.3,1.48],[1896.3,1.29],[1898.2,1.44],[1902.1,2.87],[1906,3.37],[1909.9,2.32],[1913.8,4.16],[1917.7,3.55],[1921.6,3.11],[1925.5,4.51],[1929.4,4.39],[1933.3,5.29],[1937.2,5.9],[1941.1,5.73],[1945,3.64],[1948.9,3.11],[1950.9,2.2],[1952.8,2.09],[1956.7,3.11],[1960.6,2.32],[1964.5,2.26],[1968.4,2.45],[1972.3,2.58],[1976.2,3.55],[1980.1,2.26],[1984,2.87],[1987.9,3.55],[1991.8,2.95],[1995.7,3.95],[1999.6,3.74],
[801,3.0],[806,2.4],[811,3.2],[813,2.8],[818,2.9],[821,2.4],[826,2.7],[829,3.3],[832,2.3],[836,2.6],[841,2.9],[846,2.2],[851,2.4],[857,2.9],[861,2.2],[866,3.3],[869,2.2],[873,3.0],[878,2.0],[882,2.1],[886,2.3],[890,2.7],[895,2.2],[898,1.9],[903,2.8],[906,2.2],[911,2.6],[915,2.9],[919,2.1],[922,2.0],[927,2.4],[931,2.0],[935,2.8],[939,1.9],[943,1.5],[947,2.4],[951,2.2],[955,1.7],[960,3.3],[964,3.7],[969,3.6],[973,3.2],[977,2.8],[981,2.6],[985,2.9],[989,2.5],[993,3.0],[997,2.8],[1001,3.5],[1005,3.3],[1009,2.7],[1013,2.9],[1017,2.2],[1021,1.5],[1026,1.9],[1030,2.3],[1035,3.0],[1039,3.3],[1043,3.6],[1047,3.2],[1051,2.9],[1055,3.4],[1059,3.0],[1063,3.4],[1067,3.6],[1071,2.5],[1075,2.7],[1079,2.9],[1083,2.4],[1087,2.0],[1091,2.6],[1095,2.4],[1099,2.0],[1103,1.8],[1107,1.9],[1111,1.6],[1115,2.0],[1119,2.6],[1123,3.2],[1127,2.6],[1131,2.3],[1135,2.0],[1139,3.1],[1143,2.3],[1147,2.8],[1151,2.6],[1155,2.5],[1159,2.1],[1163,2.0],[1167,2.2],[1171,2.3],[1175,2.4],[1179,2.8],[1183,3.0],[1187,2.6],[1191,2.0],[1195,1.5],[1200,2.3],[1204,2.5],[1208,3.3],[1212,2.4],[1216,2.2],[1220,1.6],[1224,2.7],[1228,4.2],[1232,3.6],[1236,3.2],[1240,2.6],[1244,2.4],[1248,2.3],[1252,3.2],[1256,3.4],[1260,3.0],[1264,2.5],[1268,2.8],[1272,3.0],[1276,3.6],[1280,3.0],[1284,2.6],[1288,2.0],[1292,2.6],[1296,3.4],[1300,3.0],[1304,2.8],[1308,2.2],[1312,1.9],[1316,2.6],[1320,3.3],[1324,3.1],[1328,3.3],[1332,3.6],[1336,3.2],[1340,3.5],[1344,2.9],[1348,3.0],[1352,2.8],[1356,2.3],[1360,2.4],[1364,2.4],[1368,2.2],[1372,2.3],[1376,2.2],[1380,2.5],[1384,3.2],[1388,3.6],[1392,2.8],[1398,2.1],
[1403,2.8],[1408,2.2],[1413,2.9],[1418,2.6],[1423,2.9],[1428,2.5],[1433,2.5],[1438,3.0],[1443,3.6],[1448,3.2],[1453,3.3],[1458,3.4],[1463,4.5],[1468,4.4],[1473,3.0],[1478,2.4],[1483,2.4],[1488,2.6],[1493,2.6],[1498,2.2],[1503,1.9],[1508,2.4],[1513,2.7],[1518,2.5],[1523,3.4],[1528,3.8],[1533,3.4],[1538,3.2],[1543,3.8],[1548,4.1],[1553,3.6],[1558,3.9],[1563,3.4],[1568,2.8],[1573,2.4],[1578,2.2],[1583,2.6],[1588,2.9],[1593,3.2],[1598,3.1],[1603,2.9],[1608,2.7],[1613,3.4],[1618,3.3],[1623,3.3],[1628,3.2],[1633,2.9],[1638,2.7],[1643,2.0],[1648,2.2],[1653,3.0],[1658,3.3],[1663,2.7],[1668,3.1],[1673,3.6],[1678,3.1],[1683,2.3],[1688,2.5],[1693,2.9],[1698,3.1],[1703,3.0],[1708,2.7],[1713,2.6],[1718,2.4],[1723,2.3],[1728,2.2],[1733,2.5],[1738,2.9],[1743,2.3],[1748,3.0],[1753,3.9],[1758,2.9],[1763,2.8],[1768,2.7],[1773,2.9],[1778,2.8],[1783,3.2],[1788,2.7],[1793,2.6],[1798,2.4],[1803,2.8],[1808,3.0],[1813,2.3],[1818,2.1],[1823,2.6],[1828,2.8],[1833,2.7],[1838,2.6],[1843,2.7],[1848,3.1],[1853,3.0],[1858,2.7],[1863,2.6],[1868,3.2],[1873,3.7],[1878,3.8],[1883,3.3],[1888,2.5],[1893,1.8],[1898,1.7],[1903,2.3],[1908,2.6],[1913,3.1],[1918,3.2],[1923,3.2],[1928,3.6],[1933,4.2],[1938,4.7],[1943,4.1],[1948,3.0],[1953,2.6],[1958,2.8],[1963,2.5],[1968,2.5],[1973,2.8],[1978,2.8],[1983,2.9],[1988,3.1],[1993,3.2],[1998,3.5]];

// ---------- drawing ----------
const RED = '#ff0000';
const GREEN = '#00ff00';
const SERIF = '"Liberation Serif", "DejaVu Serif", serif';

function toPoints(pairs) { return pairs.map(p => ({ x: p[0], y: p[1] })); }

// draw a string so that it spans the given width (condensed / expanded)
function fitText(ctx, text, left, baseline, width, font, weight) {
  ctx.font = font;
  const w = ctx.measureText(text).width;
  ctx.save();
  ctx.translate(left, baseline);
  ctx.scale(width / w, 1);
  ctx.textAlign = 'left';
  ctx.textBaseline = 'alphabetic';
  ctx.fillText(text, 0, 0);
  if (weight) {
    ctx.strokeStyle = ctx.fillStyle;
    ctx.lineWidth = weight;
    ctx.lineJoin = 'round';
    ctx.strokeText(text, 0, 0);
  }
  ctx.restore();
}

// rotated axis title made of pieces with optional baseline shift
function drawYTitle(ctx, baseX, centerY, pieces) {
  ctx.save();
  let total = 0;
  for (const p of pieces) { ctx.font = p.font; p.w = ctx.measureText(p.text).width; total += p.w; }
  ctx.translate(baseX, centerY);
  ctx.rotate(-Math.PI / 2);
  ctx.textAlign = 'left';
  ctx.textBaseline = 'alphabetic';
  let x = -total / 2;
  for (const p of pieces) { ctx.font = p.font; ctx.fillText(p.text, x, p.dy || 0); x += p.w; }
  ctx.restore();
}

const idlAxes = {
  id: 'idlAxes',
  beforeDatasetsDraw(chart, _args, o) {
    const { ctx, chartArea: a, scales: { x, y } } = chart;
    ctx.save();
    ctx.strokeStyle = RED;
    ctx.lineWidth = 3;
    ctx.beginPath();
    const xt = (list, len) => {
      for (const e of list) {
        const px = Math.round(x.getPixelForValue(e)) + 0.5;
        ctx.moveTo(px, a.bottom); ctx.lineTo(px, a.bottom - len);
        ctx.moveTo(px, a.top); ctx.lineTo(px, a.top + len);
      }
    };
    const yt = (list, len) => {
      for (const v of list) {
        const py = Math.round(y.getPixelForValue(v)) + 0.5;
        ctx.moveTo(a.left, py); ctx.lineTo(a.left + len, py);
        ctx.moveTo(a.right, py); ctx.lineTo(a.right - len, py);
      }
    };
    xt(energyMinor, 10); xt(energyMajor, 20);
    yt(o.yMinor, 10); yt(o.yMajor, 20);
    ctx.stroke();
    ctx.strokeRect(a.left, a.top, a.right - a.left, a.bottom - a.top);
    ctx.restore();
  },
  afterDraw(chart, _args, o) {
    const { ctx, chartArea: a, scales: { x, y } } = chart;
    ctx.save();
    ctx.fillStyle = RED;
    // decade labels 10^n
    for (const [v, ex] of o.yLabels) {
      const cy = y.getPixelForValue(v);
      ctx.font = 'bold 19px ' + SERIF;
      const sw = ctx.measureText(ex).width;
      ctx.font = 'bold 31px ' + SERIF;
      const bw = ctx.measureText('10').width;
      const right = a.left - 11;
      const x0 = right - sw - bw - 1;
      ctx.textAlign = 'left';
      ctx.textBaseline = 'alphabetic';
      ctx.fillText('10', x0, cy + 10.5);
      ctx.font = 'bold 19px ' + SERIF;
      ctx.fillText(ex, x0 + bw + 1, cy - 6);
    }
    // energy labels on the lowest panel only
    if (o.energyLabels) {
      ctx.font = 'bold 34px ' + SERIF;
      ctx.textAlign = 'center';
      ctx.textBaseline = 'alphabetic';
      for (const e of energyLabels) ctx.fillText(String(e), x.getPixelForValue(e), 1034);
      fitText(ctx, 'Energy (keV)', 684, 1066, 209, 'bold 30px ' + SERIF);
    }
    drawYTitle(ctx, o.title.x, o.title.y, o.title.pieces);
    fitText(ctx, o.note.text, o.note.left, o.note.baseline, o.note.width, o.note.font, 1.1);
    ctx.restore();
  }
};

function makePanel(id, top, bottom, yMin, yMax, evalPairs, dataPairs, deco) {
  return new Chart(document.getElementById(id), {
    type: 'scatter',
    data: {
      datasets: [
        { type: 'line', data: toPoints(evalPairs), borderColor: RED, borderWidth: 3,
          pointRadius: 0, tension: 0, fill: false, order: 0, clip: 0 },
        { type: 'scatter', data: toPoints(dataPairs), pointStyle: 'cross', pointRadius: 9,
          borderColor: GREEN, backgroundColor: GREEN, borderWidth: 3, order: 1, clip: 0 }
      ]
    },
    options: {
      responsive: false,
      animation: false,
      devicePixelRatio: 1,
      events: [],
      layout: { padding: { left: 118, right: 46, top: top, bottom: 1075 - bottom } },
      scales: {
        x: { type: 'linear', min: 800, max: 2000, display: false },
        y: { type: 'logarithmic', min: yMin, max: yMax, display: false }
      },
      plugins: { legend: { display: false }, tooltip: { enabled: false }, idlAxes: deco }
    },
    plugins: [idlAxes]
  });
}

const sigmaPieces = (sub) => [
  { text: '\u03c3', font: 'bold 34px ' + SERIF },
  { text: sub, font: 'bold 22px ' + SERIF, dy: 8 },
  { text: ' (b)', font: 'bold 27px ' + SERIF }
];

makePanel('gelina', 10, 324, 0.001, 1.726, gelinaEval, gelinaData, {
  yMajor: decadeMajor, yMinor: decadeMinor, yLabels: decadeLabels, energyLabels: false,
  title: { x: 31, y: 160, pieces: sigmaPieces("(n,n')") },
  note: { text: 'GELINA (Plompen)', left: 452, baseline: 242, width: 373, font: '40px "DejaVu Serif", serif' }
});

makePanel('orela', 345, 660, 0.000966, 1.285, orelaEval, orelaData, {
  yMajor: decadeMajor, yMinor: decadeMinor, yLabels: decadeLabels, energyLabels: false,
  title: { x: 31, y: 496, pieces: sigmaPieces("(n,n')") },
  note: { text: 'ORELA (Perey)', left: 452, baseline: 572, width: 296, font: '40px "DejaVu Serif", serif' }
});

makePanel('rpi', 680, 995, 0.615, 7.57, rpiEval, rpiData, {
  yMajor: totalMajor, yMinor: totalMinor, yLabels: totalLabels, energyLabels: true,
  title: { x: 31, y: 830, pieces: sigmaPieces('t') },
  note: { text: 'RPI(Danon)', left: 782, baseline: 947, width: 229, font: '36px "DejaVu Serif", serif' }
});
</script>
</body>
</html>
